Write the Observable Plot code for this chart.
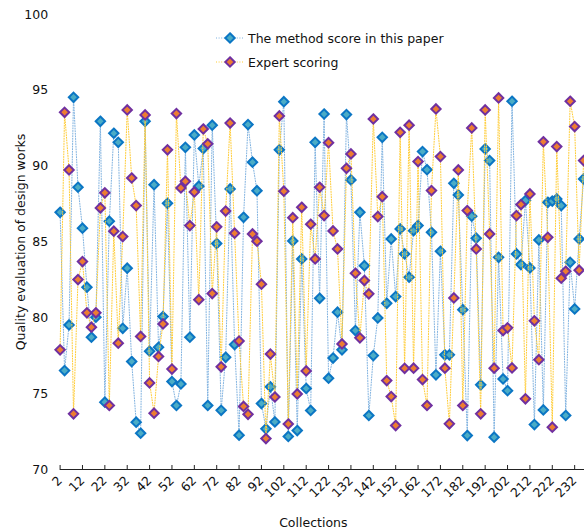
<!DOCTYPE html>
<html>
<head>
<meta charset="utf-8">
<script src="https://cdn.jsdelivr.net/npm/d3@7"></script>
<script src="https://cdn.jsdelivr.net/npm/@observablehq/plot@0.6"></script>
<style>
  html, body { margin: 0; padding: 0; background: #fff; }
  #wrap { position: relative; width: 584px; height: 531px; font-family: "DejaVu Sans", Verdana, sans-serif; }
  #legend { position: absolute; left: 216px; top: 26px; font-size: 12.5px; color: #111; }
  #legend .row { display: flex; align-items: center; height: 24px; }
  #legend svg { margin-right: 4px; }
</style>
</head>
<body>
<div id="wrap"><div id="legend"></div></div>
<script>
// Collections (x): 2, 4, 6, ... 236
const collections = [2,4,6,8,10,12,14,16,18,20,22,24,26,28,30,32,34,36,38,40,42,44,46,48,50,52,54,56,58,60,62,64,66,68,70,72,74,76,78,80,82,84,86,88,90,92,94,96,98,100,102,104,106,108,110,112,114,116,118,120,122,124,126,128,130,132,134,136,138,140,142,144,146,148,150,152,154,156,158,160,162,164,166,168,170,172,174,176,178,180,182,184,186,188,190,192,194,196,198,200,202,204,206,208,210,212,214,216,218,220,222,224,226,228,230,232,234,236];

const methodScore = [86.96,76.52,79.53,94.54,88.61,85.91,82.02,78.72,80.04,92.96,
74.44,86.37,92.17,91.57,79.31,83.27,77.12,73.12,72.39,92.96,
77.80,88.78,78.06,80.08,87.55,75.80,74.22,75.64,91.24,78.72,
92.06,88.68,91.16,74.22,92.70,84.90,73.90,77.40,88.50,78.24,
72.26,86.63,92.74,90.26,88.38,74.35,72.68,75.45,73.14,91.08,
94.25,72.18,85.07,72.57,83.88,75.34,73.89,91.57,81.29,93.44,
76.02,77.35,80.37,77.89,93.40,89.09,79.16,86.96,83.44,73.56,
77.51,79.99,91.90,80.96,85.20,81.40,85.86,84.21,82.68,85.75,
86.08,90.96,89.77,85.64,76.24,84.39,77.56,77.56,88.87,88.10,
80.54,72.24,86.70,85.25,75.58,91.14,90.37,72.13,83.99,75.97,
75.20,94.28,84.21,83.51,87.73,83.29,72.96,85.14,73.93,87.62,
87.70,87.84,87.40,73.56,83.66,80.59,85.20,89.16];

const expertScore = [77.89,93.55,89.75,73.67,82.52,83.71,80.33,79.38,80.33,87.25,
88.24,74.22,85.71,78.33,85.36,93.71,89.22,87.40,78.77,93.38,
75.71,73.71,77.45,79.60,91.08,76.62,93.47,88.56,89.00,86.08,
88.30,81.20,92.45,91.47,81.60,86.00,76.77,87.04,92.84,85.58,
78.47,74.16,73.64,85.53,85.05,82.22,72.04,77.61,74.78,93.31,
88.35,73.00,86.60,74.98,87.29,76.50,86.17,83.88,88.61,86.74,
91.55,85.73,84.54,78.28,89.86,90.81,82.94,78.68,82.46,81.58,
93.11,86.68,87.99,75.86,74.81,72.90,92.23,76.67,92.70,76.68,
90.30,75.93,74.22,88.39,93.77,90.63,76.68,73.01,81.31,89.75,
74.22,87.07,92.52,84.54,73.67,93.71,85.53,76.68,94.50,79.16,
79.34,76.70,86.74,87.47,74.66,88.17,79.80,77.24,91.61,85.31,
72.79,91.29,82.61,83.07,94.28,92.61,83.14,90.37];

const xTicks = [2,12,22,32,42,52,62,72,82,92,102,112,122,132,142,152,162,172,182,192,202,212,222,232];
const yTicks = [70,75,80,85,90,95,100];
const seriesNames = ["The method score in this paper", "Expert scoring"];

const methodData = collections.map((c, i) => ({x: c, y: methodScore[i]}));
const expertData = collections.map((c, i) => ({x: c, y: expertScore[i]}));

const diamond = {
  draw(ctx, size) {
    const h = Math.sqrt(size / Math.PI);
    ctx.moveTo(0, -h); ctx.lineTo(h, 0); ctx.lineTo(0, h); ctx.lineTo(-h, 0); ctx.closePath();
  }
};

const C = {
  blueLine: "#7fb2e0", blueFill: "#4bacc6", blueStroke: "#0b76c4",
  orangeLine: "#ffcc33", orangeFill: "#ed7d31", purpleStroke: "#7030a0"
};
const font = "DejaVu Sans, Verdana, sans-serif";

const chart = Plot.plot({
  width: 584,
  height: 531,
  marginLeft: 59.6,
  marginRight: 0,
  marginTop: 14,
  marginBottom: 62,
  style: {fontFamily: font, fontSize: "12.5px", color: "#111", background: "#fff", overflow: "visible"},
  x: {domain: [2, 236.4]},
  y: {domain: [70, 100]},
  marks: [
    Plot.axisY({ticks: yTicks, tickSize: 0, tickPadding: 12, label: "Quality evaluation of design works", labelAnchor: "center", labelArrow: "none", labelOffset: 44, fontSize: 12.5}),
    Plot.axisX({ticks: xTicks, tickSize: 0, tickPadding: 9, tickRotate: -45, label: null, fontSize: 12.5}),
    Plot.ruleY([70], {stroke: "#222", strokeWidth: 1}),
    Plot.ruleX(xTicks, {x: d => d, y1: 70, y2: 70, insetBottom: 4, stroke: "#222", strokeWidth: 1}),
    Plot.text(["Collections"], {frameAnchor: "bottom", dy: 57, dx: -9, fontSize: 12.5, fill: "#111"}),
    Plot.line(methodData, {x: "x", y: "y", stroke: C.blueLine, strokeWidth: 1, strokeDasharray: "1 1.6"}),
    Plot.dot(methodData, {x: "x", y: "y", symbol: diamond, r: 4.7, fill: C.blueFill, stroke: C.blueStroke, strokeWidth: 2}),
    Plot.line(expertData, {x: "x", y: "y", stroke: C.orangeLine, strokeWidth: 1, strokeDasharray: "1 1.6"}),
    Plot.dot(expertData, {x: "x", y: "y", symbol: diamond, r: 4.7, fill: C.orangeFill, stroke: C.purpleStroke, strokeWidth: 2})
  ]
});
document.getElementById("wrap").prepend(chart);
chart.style.position = "absolute"; chart.style.left = "0"; chart.style.top = "0";

// legend
const legend = document.getElementById("legend");
const styles = [[C.blueLine, C.blueFill, C.blueStroke], [C.orangeLine, C.orangeFill, C.purpleStroke]];
seriesNames.forEach((name, i) => {
  const [ln, fl, st] = styles[i];
  const row = document.createElement("div");
  row.className = "row";
  row.innerHTML = `<svg width="28" height="14"><line x1="0" y1="7" x2="28" y2="7" stroke="${ln}" stroke-dasharray="1 1.6"/><path d="M14,2.3L18.7,7L14,11.7L9.3,7Z" fill="${fl}" stroke="${st}" stroke-width="2"/></svg><span>${name}</span>`;
  legend.appendChild(row);
});
</script>
</body>
</html>
